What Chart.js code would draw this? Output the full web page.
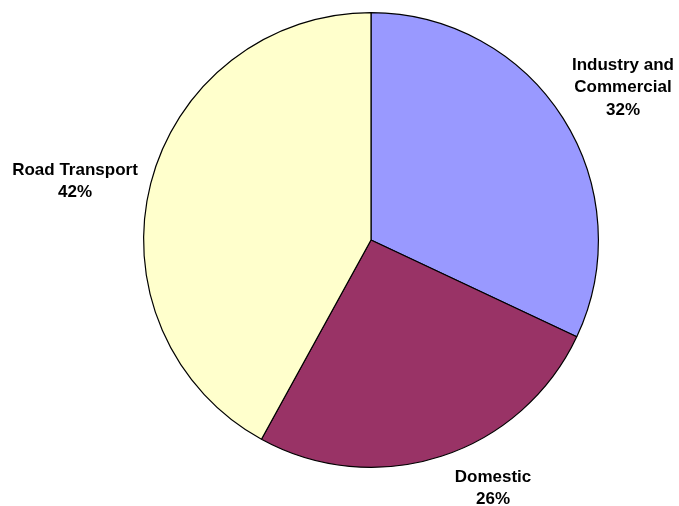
<!DOCTYPE html>
<html>
<head>
<meta charset="utf-8">
<script src="https://cdn.jsdelivr.net/npm/chart.js@4"></script>
<style>
  html, body { margin: 0; padding: 0; background: #fff; }
  #wrap { width: 679px; height: 506px; }
</style>
</head>
<body>
<div id="wrap"><canvas id="pie"></canvas></div>
<script>
/* ── DATA ── */
const sectors  = ['Industry and Commercial', 'Domestic', 'Road Transport'];
const shares   = [32, 26, 42];
const labelTxt = [['Industry and', 'Commercial'], ['Domestic'], ['Road Transport']];

/* ── Layout: where each outside label sits (centre x, first line y) ── */
const labelAt = [
  { x: 623, y: 65 },
  { x: 493, y: 477 },
  { x: 75,  y: 170 },
];

// Outside labels: name lines + percentage underneath
const outsideLabels = {
  id: 'outsideLabels',
  afterDraw(chart) {
    const ctx = chart.ctx;
    ctx.save();
    ctx.font = 'bold 17px "Liberation Sans", Arial, sans-serif';
    ctx.fillStyle = '#000';
    ctx.textAlign = 'center';
    ctx.textBaseline = 'middle';
    shares.forEach((v, i) => {
      const lines = [...labelTxt[i], v + '%'];
      lines.forEach((t, j) => ctx.fillText(t, labelAt[i].x, labelAt[i].y + j * 22.5));
    });
    ctx.restore();
  },
};

new Chart(document.getElementById('pie'), {
  type: 'pie',
  data: {
    labels: sectors,
    datasets: [{
      data: shares,
      backgroundColor: ['#9999FF', '#993366', '#FFFFCC'],
      borderColor: '#000',
      borderWidth: 1.2,
      hoverOffset: 0,
    }],
  },
  options: {
    responsive: true,
    maintainAspectRatio: false,
    animation: false,
    layout: { padding: { left: 143, right: 80, top: 12, bottom: 38 } },
    plugins: {
      legend: { display: false },
      tooltip: { enabled: false },
    },
  },
  plugins: [outsideLabels],
});
</script>
</body>
</html>
